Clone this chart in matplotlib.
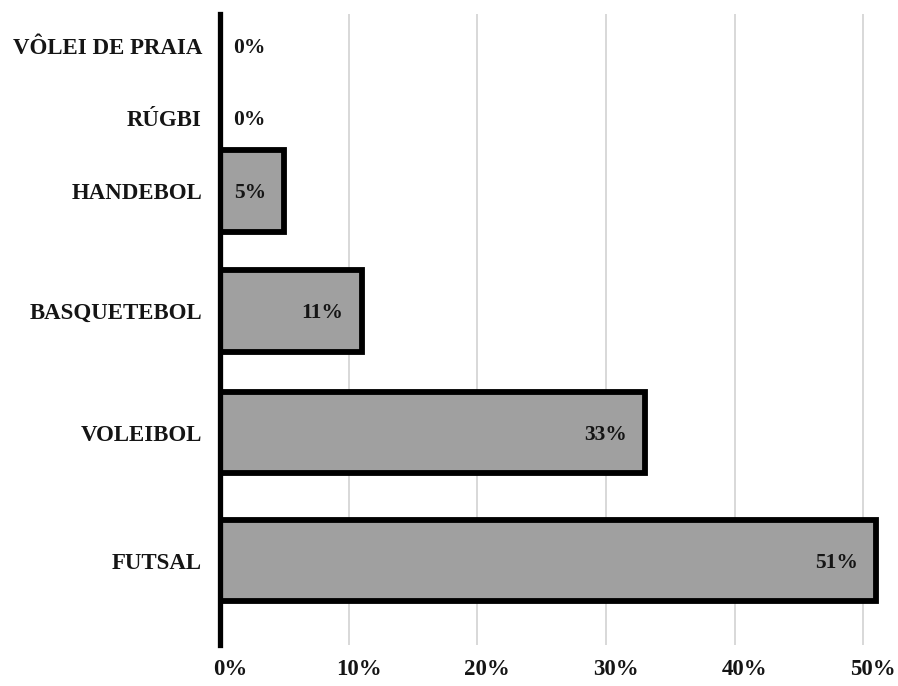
import matplotlib
matplotlib.use("Agg")
import matplotlib.pyplot as plt
from matplotlib.transforms import ScaledTranslation

# Modalidades esportivas (de baixo para cima) e percentuais
categorias = ["FUTSAL", "VOLEIBOL", "BASQUETEBOL", "HANDEBOL", "RÚGBI", "VÔLEI DE PRAIA"]
percentuais = [51, 33, 11, 5, 0, 0]
ticks_x = [0, 10, 20, 30, 40, 50]
rotulos_x = ["0%", "10%", "20%", "30%", "40%", "50%"]

# Posições verticais das barras
posicoes_y = [0.0, 1.0, 1.95, 2.89, 3.46, 4.02]

plt.rcParams["font.family"] = ["Liberation Serif", "DejaVu Serif"]
plt.rcParams["font.weight"] = "bold"

cor_texto = "#151515"

fig = plt.figure(figsize=(8.98, 6.86), dpi=100)
ax = fig.add_axes([220 / 898, 1 - 645 / 686, (889 - 220) / 898, (645 - 14) / 686])

ax.barh(posicoes_y, percentuais, height=0.64, color="#a0a0a0",
        edgecolor="black", linewidth=4.2, zorder=3)

ax.set_xlim(0, 52)
ax.set_ylim(-0.66, 4.27)

# Grade vertical clara
ax.set_xticks(ticks_x)
ax.set_xticklabels(rotulos_x, fontsize=16.5, fontweight="bold", color=cor_texto)
ax.xaxis.grid(True, color="#d6d6d6", linewidth=1.3, zorder=0)
ax.tick_params(axis="x", length=0, pad=10)
offset = ScaledTranslation(10 / 100, 0, fig.dpi_scale_trans)
for lbl in ax.get_xticklabels():
    lbl.set_transform(lbl.get_transform() + offset)

ax.set_yticks(posicoes_y)
ax.set_yticklabels(categorias, fontsize=16.5, fontweight="bold", color=cor_texto)
ax.tick_params(axis="y", length=0, pad=13)

for s in ["top", "right", "bottom"]:
    ax.spines[s].set_visible(False)
ax.spines["left"].set_linewidth(3.8)
ax.spines["left"].set_color("black")
ax.spines["left"].set_zorder(5)

# Rótulos de valor
for y, v in zip(posicoes_y, percentuais):
    if v == 0:
        ax.annotate(f"{v}%", xy=(0, y), xytext=(13, -2), textcoords="offset pixels",
                    ha="left", va="center", fontsize=15.5, fontweight="bold",
                    color=cor_texto, zorder=6)
    else:
        ax.annotate(f"{v}%", xy=(v, y), xytext=(-18, -2), textcoords="offset pixels",
                    ha="right", va="center", fontsize=15.5, fontweight="bold",
                    color=cor_texto, zorder=6)

fig.savefig("out.png", dpi=100, facecolor="white")
